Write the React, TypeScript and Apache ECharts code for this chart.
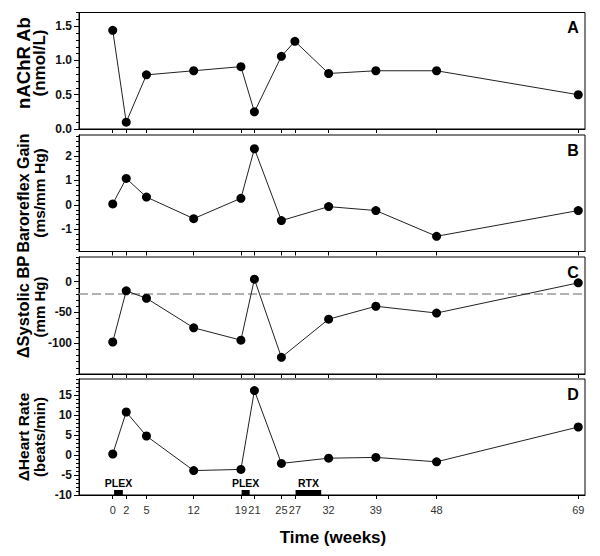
import React, { useEffect, useRef } from "react";
import * as echarts from "echarts";

// ---------- data ----------
const weeksA = [0, 2, 5, 12, 19, 21, 25, 27, 32, 39, 48, 69];
const nachrAb = [1.44, 0.1, 0.79, 0.85, 0.91, 0.25, 1.06, 1.28, 0.81, 0.85, 0.85, 0.5];

const weeksBCD = [0, 2, 5, 12, 19, 21, 25, 32, 39, 48, 69];
const baroreflexGain = [0.04, 1.08, 0.32, -0.56, 0.27, 2.29, -0.64, -0.07, -0.23, -1.28, -0.23];
const deltaSystolicBP = [-98, -15, -27, -75, -95, 4, -123, -61, -40, -51, -2];
const deltaHeartRate = [0.25, 10.75, 4.75, -3.9, -3.6, 16.1, -2.1, -0.8, -0.6, -1.7, 7.0];

const systolicReference = -20;

const xTickWeeks = [0, 2, 5, 12, 19, 21, 25, 27, 32, 39, 48, 69];
const yTicksA = [0, 0.5, 1.0, 1.5];
const yTicksB = [-1, 0, 1, 2];
const yTicksC = [-100, -50, 0];
const yTicksD = [-10, -5, 0, 5, 10, 15];

const treatmentNames = ["PLEX", "PLEX", "RTX"];
const treatmentStart = [0.2, 19.1, 27.1];
const treatmentEnd = [1.5, 20.3, 30.9];

const panelLetters = ["A", "B", "C", "D"];
const axisTitleLine1 = ["nAChR Ab", "Baroreflex Gain", "\u0394Systolic BP", "\u0394Heart Rate"];
const axisTitleLine2 = ["(nmol/L)", "(ms/mm Hg)", "(mm Hg)", "(beats/min)"];
const xTitle = "Time (weeks)";

// ---------- layout / style ----------
const FONT = '"Liberation Sans", Arial, Helvetica, sans-serif';
const GRID_LEFT = 79;
const GRID_WIDTH = 506;
const panels = [
  { top: 12.5, height: 116.5, min: 0, max: 1.7, minorStep: 0.1, major: yTicksA, dec: 1 },
  { top: 135, height: 116.5, min: -1.9, max: 2.85, minorStep: 0.2, major: yTicksB, dec: 0 },
  { top: 257, height: 117, min: -150, max: 40, minorStep: 10, major: yTicksC, dec: 0 },
  { top: 379, height: 116, min: -10, max: 19, minorStep: 1, major: yTicksD, dec: 0 },
];
const titleFont1 = [18.5, 16, 16.5, 15.5];
const titleFont2 = [17, 15.5, 15, 15];
const titleX1 = 23;
const titleX2 = 39.5;
const titleCenterY = [63, 193, 307, 437];

function minorTicks(min: number, max: number, step: number): number[] {
  const out: number[] = [];
  const startK = Math.ceil(min / step - 1e-9);
  const endK = Math.floor(max / step + 1e-9);
  for (let k = startK; k <= endK; k++) out.push(+(k * step).toFixed(6));
  return out;
}

function buildOption() {
  const grids = panels.map((p) => ({
    left: GRID_LEFT,
    width: GRID_WIDTH,
    top: p.top,
    height: p.height,
    show: true,
    borderColor: "#000",
    borderWidth: 1,
    backgroundColor: "transparent",
  }));

  const xAxes = panels.map((_, i) => ({
    gridIndex: i,
    type: "value",
    min: -5,
    max: 70,
    axisLine: { show: true, onZero: false, lineStyle: { color: "#000", width: 1 } },
    splitLine: { show: false },
    axisTick: { show: true, inside: false, length: 4, customValues: xTickWeeks, lineStyle: { color: "#000" } },
    axisLabel: {
      show: i === 3,
      customValues: xTickWeeks,
      margin: 9,
      color: "#333",
      fontSize: 11,
      fontFamily: FONT,
    },
  }));

  const yAxes: any[] = [];
  panels.forEach((p, i) => {
    yAxes.push({
      gridIndex: i,
      type: "value",
      position: "left",
      min: p.min,
      max: p.max,
      axisLine: { show: true, onZero: false, lineStyle: { color: "#000", width: 1 } },
      splitLine: { show: false },
      axisTick: { show: true, inside: false, length: 5, customValues: p.major, lineStyle: { color: "#000" } },
      axisLabel: {
        show: true,
        customValues: p.major,
        margin: 7,
        color: "#111",
        fontSize: 12,
        fontWeight: "bold",
        fontFamily: FONT,
        formatter: (v: number) => v.toFixed(p.dec),
      },
    });
    yAxes.push({
      gridIndex: i,
      type: "value",
      position: "left",
      min: p.min,
      max: p.max,
      axisLine: { show: true, onZero: false, lineStyle: { color: "#000", width: 1 } },
      splitLine: { show: false },
      axisTick: {
        show: true,
        inside: false,
        length: 3,
        customValues: minorTicks(p.min, p.max, p.minorStep),
        lineStyle: { color: "#000", width: 1 },
      },
      axisLabel: { show: false },
    });
  });

  const lineBase = {
    type: "line",
    symbol: "circle",
    symbolSize: 9,
    itemStyle: { color: "#000" },
    lineStyle: { color: "#222", width: 1 },
    z: 3,
  };

  const series: any[] = [
    { ...lineBase, xAxisIndex: 0, yAxisIndex: 0, data: weeksA.map((w, k) => [w, nachrAb[k]]) },
    { ...lineBase, xAxisIndex: 1, yAxisIndex: 2, data: weeksBCD.map((w, k) => [w, baroreflexGain[k]]) },
    {
      ...lineBase,
      xAxisIndex: 2,
      yAxisIndex: 4,
      data: weeksBCD.map((w, k) => [w, deltaSystolicBP[k]]),
      markLine: {
        silent: true,
        symbol: ["none", "none"],
        label: { show: false },
        lineStyle: { type: [9, 4], color: "#999", width: 1.5 },
        data: [{ yAxis: systolicReference }],
        z: 1,
      },
    },
    { ...lineBase, xAxisIndex: 3, yAxisIndex: 6, data: weeksBCD.map((w, k) => [w, deltaHeartRate[k]]) },
    {
      type: "custom",
      xAxisIndex: 3,
      yAxisIndex: 6,
      data: treatmentStart.map((s, k) => [s, treatmentEnd[k], panels[3].min]),
      encode: { x: [0, 1], y: 2 },
      renderItem: (params: any, api: any) => {
        const a = api.coord([api.value(0), api.value(2)]);
        const b = api.coord([api.value(1), api.value(2)]);
        const name = treatmentNames[params.dataIndex];
        return {
          type: "group",
          children: [
            {
              type: "rect",
              shape: { x: a[0], y: a[1] - 5, width: b[0] - a[0], height: 5 },
              style: { fill: "#000" },
            },
            {
              type: "text",
              x: (a[0] + b[0]) / 2,
              y: a[1] - 12.5,
              style: {
                text: name,
                fill: "#000",
                fontSize: 10.5,
                fontWeight: "bold",
                fontFamily: FONT,
                align: "center",
                verticalAlign: "middle",
              },
            },
          ],
        };
      },
      z: 4,
    },
  ];

  const graphic: any[] = [];
  panels.forEach((p, i) => {
    graphic.push({
      type: "text",
      x: 573,
      y: p.top + 15,
      style: {
        text: panelLetters[i],
        fill: "#000",
        fontSize: 16,
        fontWeight: "bold",
        fontFamily: FONT,
        align: "center",
        verticalAlign: "middle",
      },
    });
    graphic.push({
      type: "text",
      x: titleX1,
      y: titleCenterY[i],
      rotation: Math.PI / 2,
      style: {
        text: axisTitleLine1[i],
        fill: "#000",
        fontSize: titleFont1[i],
        fontWeight: "bold",
        fontFamily: FONT,
        align: "center",
        verticalAlign: "middle",
      },
    });
    graphic.push({
      type: "text",
      x: titleX2,
      y: titleCenterY[i],
      rotation: Math.PI / 2,
      style: {
        text: axisTitleLine2[i],
        fill: "#000",
        fontSize: titleFont2[i],
        fontWeight: "bold",
        fontFamily: FONT,
        align: "center",
        verticalAlign: "middle",
      },
    });
  });
  graphic.push({
    type: "text",
    x: 333,
    y: 537,
    style: {
      text: xTitle,
      fill: "#000",
      fontSize: 17,
      fontWeight: "bold",
      fontFamily: FONT,
      align: "center",
      verticalAlign: "middle",
    },
  });

  return {
    animation: false,
    backgroundColor: "#fff",
    grid: grids,
    xAxis: xAxes,
    yAxis: yAxes,
    series,
    graphic,
  };
}

export default function App() {
  const ref = useRef<HTMLDivElement>(null);
  useEffect(() => {
    if (!ref.current) return;
    const chart = echarts.init(ref.current, undefined, { renderer: "svg" });
    chart.setOption(buildOption() as any);
    return () => chart.dispose();
  }, []);
  return (
    <div
      ref={ref}
      style={{ position: "fixed", left: 0, top: 0, width: 600, height: 556, background: "#fff" }}
    />
  );
}
